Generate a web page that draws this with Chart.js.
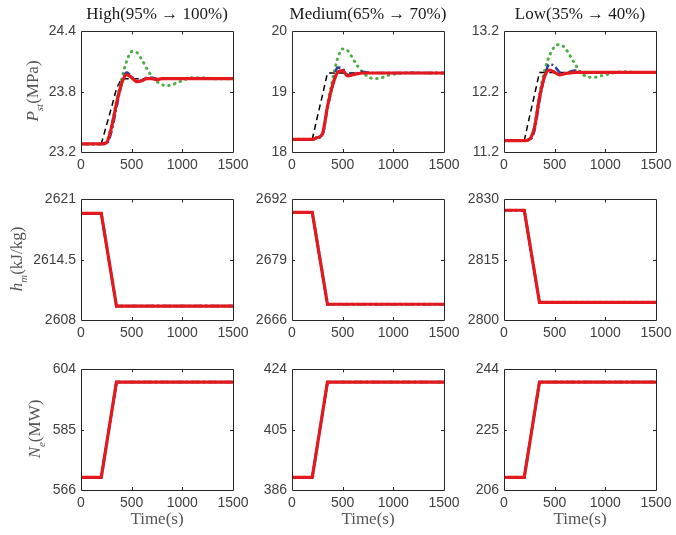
<!DOCTYPE html>
<html>
<head>
<meta charset="utf-8">
<script src="https://cdn.jsdelivr.net/npm/chart.js@4"></script>
<style>
body{margin:0;background:#fff}
#wrap{position:relative;width:676px;height:535px;overflow:hidden;background:#fff}
.cell{position:absolute}
.title{position:absolute;font-family:"Liberation Serif",serif;font-size:17px;color:#1a1a1a;white-space:nowrap;transform:translateX(-50%)}
.ylab{position:absolute;font-family:"Liberation Serif",serif;font-size:17px;color:#555;white-space:nowrap;transform:translate(-50%,-50%) rotate(-90deg)}
.xlab{position:absolute;font-family:"Liberation Serif",serif;font-size:17px;color:#555;white-space:nowrap;transform:translateX(-50%)}
i sub{font-size:11px}
</style>
</head>
<body>
<div id="wrap"></div>
<script>
// time axis for pressure curves
const timeP=[0,100,200,250,300,350,400,450,500,550,600,650,700,750,800,850,900,950,1000,1100,1200,1300,1400,1500]
// High (95% -> 100%) main steam pressure
const highRef  =[23.28,23.28,23.28,23.46,23.64,23.83,23.93,23.93,23.93,23.93,23.93,23.93,23.93,23.93,23.93,23.93,23.93,23.93,23.93,23.93,23.93,23.93,23.93,23.93]
const highBlue =[23.28,23.28,23.28,23.28,23.40,23.64,23.87,23.99,23.95,23.90,23.91,23.94,23.94,23.93,23.93,23.93,23.93,23.93,23.93,23.93,23.93,23.93,23.93,23.93]
const highGreen=[23.28,23.28,23.28,23.30,23.46,23.70,23.92,24.10,24.20,24.19,24.12,24.03,23.95,23.90,23.87,23.86,23.87,23.89,23.91,23.94,23.94,23.93,23.93,23.93]
const highRed  =[23.28,23.28,23.28,23.29,23.44,23.68,23.88,23.97,23.94,23.90,23.91,23.93,23.93,23.92,23.93,23.93,23.93,23.93,23.93,23.93,23.93,23.93,23.93,23.93]
// Medium (65% -> 70%)
const medRef  =[18.21,18.21,18.21,18.58,18.94,19.31,19.31,19.31,19.31,19.31,19.31,19.31,19.31,19.31,19.31,19.31,19.31,19.31,19.31,19.31,19.31,19.31,19.31,19.31]
const medBlue =[18.21,18.21,18.21,18.23,18.28,18.72,19.10,19.40,19.38,19.28,19.28,19.31,19.33,19.32,19.31,19.31,19.31,19.31,19.31,19.31,19.31,19.31,19.31,19.31]
const medGreen=[18.21,18.21,18.21,18.24,18.30,18.78,19.20,19.55,19.71,19.68,19.55,19.42,19.32,19.25,19.22,19.22,19.24,19.27,19.29,19.31,19.32,19.31,19.31,19.31]
const medRed  =[18.21,18.21,18.21,18.24,18.30,18.75,19.10,19.32,19.35,19.26,19.28,19.30,19.31,19.31,19.31,19.31,19.31,19.31,19.31,19.31,19.31,19.31,19.31,19.31]
// Low (35% -> 40%)
const lowRef  =[11.39,11.39,11.39,11.77,12.14,12.52,12.52,12.52,12.52,12.52,12.52,12.52,12.52,12.52,12.52,12.52,12.52,12.52,12.52,12.52,12.52,12.52,12.52,12.52]
const lowBlue =[11.39,11.39,11.39,11.40,11.55,12.05,12.45,12.66,12.62,12.52,12.50,12.53,12.55,12.53,12.52,12.52,12.52,12.52,12.52,12.52,12.52,12.52,12.52,12.52]
const lowGreen=[11.39,11.39,11.39,11.41,11.62,12.15,12.55,12.80,12.95,12.98,12.93,12.80,12.66,12.53,12.46,12.44,12.44,12.46,12.48,12.52,12.53,12.52,12.52,12.52]
const lowRed  =[11.39,11.39,11.39,11.41,11.60,12.10,12.45,12.56,12.52,12.48,12.50,12.51,12.52,12.52,12.52,12.52,12.52,12.52,12.52,12.52,12.52,12.52,12.52,12.52]
// enthalpy and power ramp (all four curves coincide)
const timeR=[0,200,350,1500]
const hmHigh=[2619.5,2619.5,2609.5,2609.5]
const hmMed =[2689.2,2689.2,2669.4,2669.4]
const hmLow =[2827.3,2827.3,2804.4,2804.4]
const neHigh=[570,570,600,600]
const neMed =[390,390,420,420]
const neLow =[210,210,240,240]
// ticks
const xTicks=[0,500,1000,1500]
const pTicks=[["23.2","23.8","24.4"],["18","19","20"],["11.2","12.2","13.2"]]
const hTicks=[["2608","2614.5","2621"],["2666","2679","2692"],["2800","2815","2830"]]
const nTicks=[["566","585","604"],["386","405","424"],["206","225","244"]]
const titles=["High(95% \u2192 100%)","Medium(65% \u2192 70%)","Low(35% \u2192 40%)"]

const colLeft=[81,292,504]
const plotW=152
const rowTop=[30,198,368]
const plotH=122
const padL=50,padT=12,padR=22,axH=26

const boxPlugin={
  id:'box',
  afterDatasetsDraw(chart){
    const c=chart.ctx,a=chart.chartArea
    c.save()
    c.strokeStyle='#262626'
    c.lineWidth=1
    c.beginPath()
    c.rect(Math.round(a.left)+0.5,Math.round(a.top)+0.5,Math.round(a.right-a.left),Math.round(a.bottom-a.top))
    c.stroke()
    const xs=chart.scales.x,ys=chart.scales.y
    c.beginPath()
    xTicks.slice(1,-1).forEach(v=>{
      const px=Math.round(xs.getPixelForValue(v))+0.5
      c.moveTo(px,a.bottom);c.lineTo(px,a.bottom-3)
      c.moveTo(px,a.top);c.lineTo(px,a.top+3)
    })
    ys.ticks.slice(1,-1).forEach(t=>{
      const py=Math.round(ys.getPixelForValue(t.value))+0.5
      c.moveTo(a.left,py);c.lineTo(a.left+3,py)
      c.moveTo(a.right,py);c.lineTo(a.right-3,py)
    })
    c.stroke()
    c.restore()
  }
}

function pts(t,v){
  return t.map((x,i)=>({x:x,y:v[i]}))
}

function makeSets(t,red,blue,green,ref,mode){
  const sets=[
    {data:pts(t,red),borderColor:'#e3191f',borderWidth:3.2},
    {data:pts(t,blue),borderColor:'#2e3f9a',borderWidth:2.5,borderDash:[8,3,2,3]},
    {data:pts(t,green),borderColor:'#4fae48',borderWidth:3,borderDash:[0.5,5.5],borderCapStyle:'round'},
    {data:pts(t,ref),borderColor:'#000000',borderWidth:1.5,borderDash:[6,4]}
  ]
  sets.forEach(s=>{s.cubicInterpolationMode=mode;s.tension=0})
  // reference curve is a straight ramp
  sets[3].cubicInterpolationMode='default'
  return sets
}

function drawCell(row,col,sets,labels){
  const wrap=document.getElementById('wrap')
  const div=document.createElement('div')
  div.className='cell'
  div.style.left=(colLeft[col]-padL)+'px'
  div.style.top=(rowTop[row]-padT)+'px'
  const cv=document.createElement('canvas')
  cv.width=padL+plotW+padR
  cv.height=padT+plotH+axH
  div.appendChild(cv)
  wrap.appendChild(div)
  const lo=parseFloat(labels[0]),hi=parseFloat(labels[2])
  const font={family:'"Liberation Sans", Arial, sans-serif',size:14}
  new Chart(cv,{
    type:'line',
    data:{datasets:sets},
    options:{
      responsive:false,
      animation:false,
      layout:{padding:{top:padT,right:padR,left:0,bottom:0}},
      plugins:{legend:{display:false},tooltip:{enabled:false}},
      elements:{point:{radius:0}},
      scales:{
        x:{
          type:'linear',min:0,max:1500,
          afterBuildTicks:s=>{s.ticks=xTicks.map(v=>({value:v}))},
          afterFit:s=>{s.height=axH},
          grid:{display:false,drawTicks:false},
          border:{display:false},
          ticks:{font:font,color:'#404040',padding:5,maxRotation:0,autoSkip:false,callback:v=>String(v)}
        },
        y:{
          type:'linear',min:lo,max:hi,
          afterBuildTicks:s=>{s.ticks=labels.map(v=>({value:parseFloat(v)}))},
          afterFit:s=>{s.width=padL},
          grid:{display:false,drawTicks:false},
          border:{display:false},
          ticks:{font:font,color:'#404040',padding:5,autoSkip:false,callback:(v,i)=>labels[i]}
        }
      }
    },
    plugins:[boxPlugin]
  })
}

const pSets=[
  makeSets(timeP,highRed,highBlue,highGreen,highRef,'monotone'),
  makeSets(timeP,medRed,medBlue,medGreen,medRef,'monotone'),
  makeSets(timeP,lowRed,lowBlue,lowGreen,lowRef,'monotone')
]
const hData=[hmHigh,hmMed,hmLow]
const nData=[neHigh,neMed,neLow]
for(let c=0;c<3;c++){
  drawCell(0,c,pSets[c],pTicks[c])
  drawCell(1,c,makeSets(timeR,hData[c],hData[c],hData[c],hData[c],'default'),hTicks[c])
  drawCell(2,c,makeSets(timeR,nData[c],nData[c],nData[c],nData[c],'default'),nTicks[c])
}

// text: titles, axis labels
const wrap=document.getElementById('wrap')
function addText(cls,html,x,y){
  const d=document.createElement('div')
  d.className=cls
  d.innerHTML=html
  d.style.left=x+'px'
  d.style.top=y+'px'
  wrap.appendChild(d)
}
for(let c=0;c<3;c++){
  addText('title',titles[c],colLeft[c]+plotW/2,4)
  addText('xlab','Time(s)',colLeft[c]+plotW/2,509)
}
addText('ylab','<i>P<sub>st</sub></i>(MPa)',34,rowTop[0]+plotH/2)
addText('ylab','<i>h<sub>m</sub></i>(kJ/kg)',18,rowTop[1]+plotH/2)
addText('ylab','<i>N<sub>e</sub></i>(MW)',36,rowTop[2]+plotH/2)
</script>
</body>
</html>
